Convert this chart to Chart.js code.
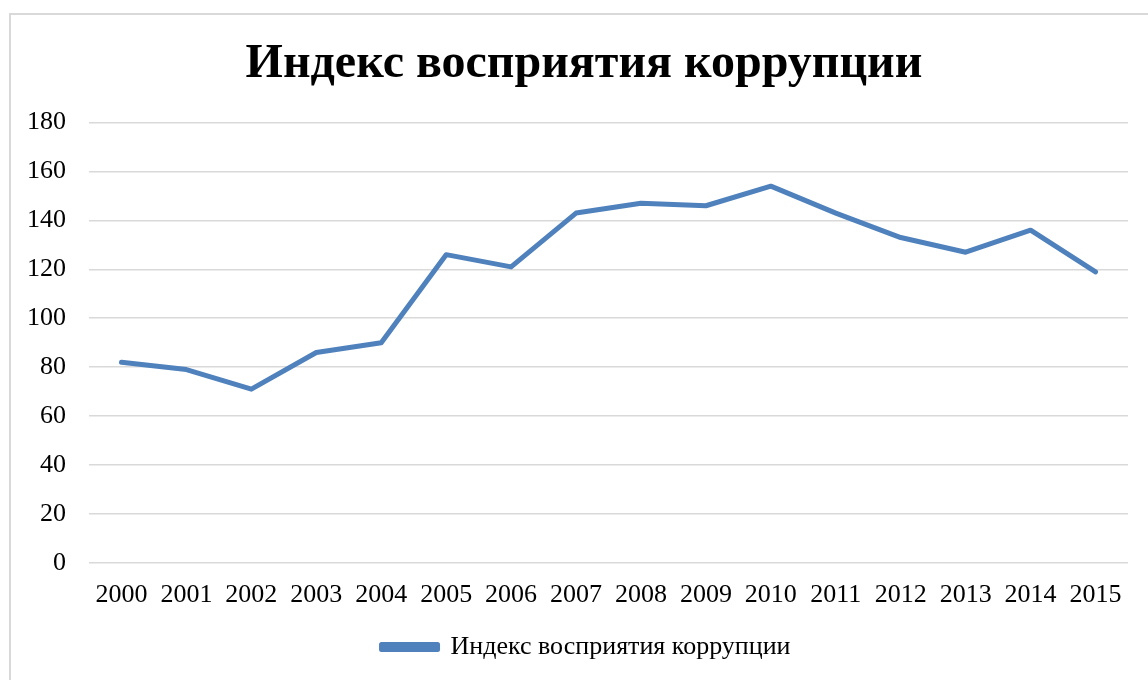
<!DOCTYPE html>
<html lang="ru">
<head>
<meta charset="utf-8">
<title>Индекс восприятия коррупции</title>
<script src="https://cdn.jsdelivr.net/npm/chart.js@4.4.1/dist/chart.umd.min.js"></script>
<style>
  html, body { margin: 0; padding: 0; background: #fff; }
  #frame {
    position: absolute; left: 9px; top: 13px; width: 1200px; height: 700px;
    border-left: 2px solid #d9d9d9; border-top: 2px solid #d9d9d9;
  }
  #myChart { position: absolute; left: 0; top: 0; }
</style>
</head>
<body>
<div id="frame"></div>
<canvas id="myChart" width="1148" height="680"></canvas>
<script>
// data
const years = ['2000', '2001', '2002', '2003', '2004', '2005', '2006', '2007',
               '2008', '2009', '2010', '2011', '2012', '2013', '2014', '2015'];
const cpiValues = [82, 79, 71, 86, 90, 126, 121, 143, 147, 146, 154, 143, 133, 127, 136, 119];
const seriesName = 'Индекс восприятия коррупции';
const yTicks = [0, 20, 40, 60, 80, 100, 120, 140, 160, 180];

const serif = "'Liberation Serif', 'Times New Roman', serif";
const blue = '#4f81bd';

// title and legend are centred on the whole frame, not on the space left of the padding
const shiftBlocks = {
    id: 'shiftBlocks',
    afterLayout: function(chart) {
        chart.titleBlock.left += 20;
        chart.titleBlock.right += 20;
        chart.legend.left += 22;
        chart.legend.right += 22;
    }
};

document.addEventListener("DOMContentLoaded", function() {
    const ctx = document.getElementById('myChart').getContext('2d');

    const data = {
        labels: years,
        datasets: [
            {
                label: seriesName,
                data: cpiValues,
                borderColor: blue,
                backgroundColor: blue,
                borderWidth: 5,
                borderCapStyle: 'round',
                borderJoinStyle: 'round',
                tension: 0,
                pointRadius: 0,
                pointHoverRadius: 0,
                fill: false
            }
        ]
    };

    const options = {
        responsive: false,
        animation: false,
        layout: { padding: { left: 0, right: 20, top: 0, bottom: 10 } },
        plugins: {
            title: {
                display: true,
                text: seriesName,
                color: '#000',
                font: { family: serif, size: 48, weight: 'bold' },
                padding: { top: 36, bottom: 29 }
            },
            legend: {
                position: 'bottom',
                labels: {
                    color: '#000',
                    font: { family: serif, size: 26 },
                    boxWidth: 56,
                    boxHeight: 5,
                    padding: 6
                }
            },
            tooltip: { enabled: false }
        },
        scales: {
            x: {
                offset: true,
                grid: { display: false, drawTicks: false },
                border: { display: false },
                ticks: {
                    color: '#000',
                    font: { family: serif, size: 26 },
                    padding: 17,
                    maxRotation: 0,
                    autoSkip: false
                }
            },
            y: {
                min: yTicks[0],
                max: yTicks[yTicks.length - 1],
                // keep the plot's left edge where the reference has it
                afterFit: function(scale) { scale.width = 89; },
                afterBuildTicks: function(scale) {
                    scale.ticks = yTicks.map(function(v) { return { value: v }; });
                },
                grid: { color: '#d9d9d9', lineWidth: 1.5, drawTicks: false },
                border: { display: false },
                ticks: {
                    color: '#000',
                    font: { family: serif, size: 26 },
                    padding: 23
                }
            }
        }
    };

    new Chart(ctx, {
        type: 'line',
        data: data,
        options: options,
        plugins: [shiftBlocks]
    });
});
</script>
</body>
</html>
